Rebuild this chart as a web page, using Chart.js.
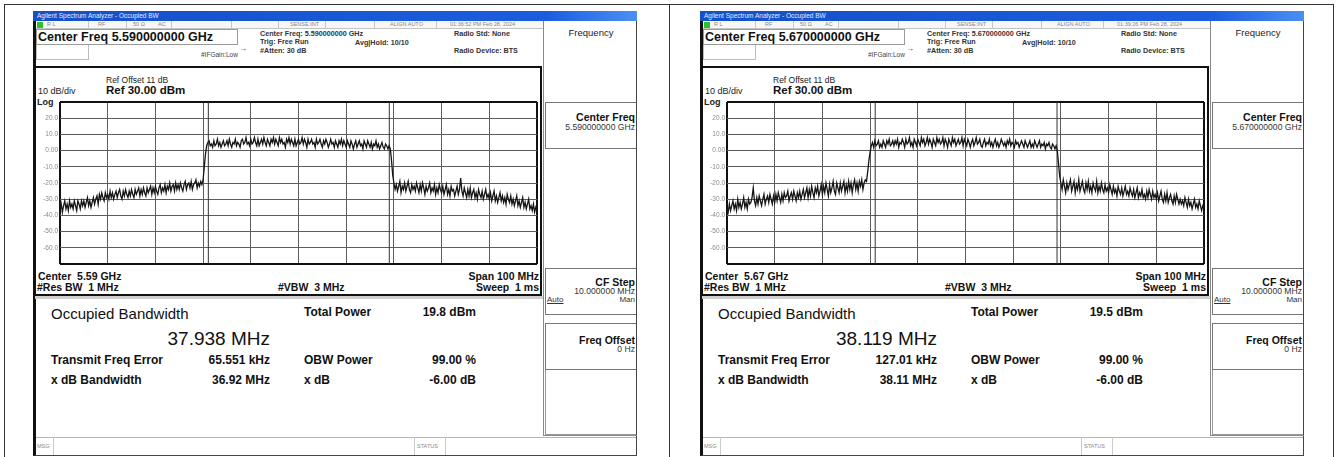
<!DOCTYPE html>
<html>
<head>
<meta charset="utf-8">
<script src="https://cdn.jsdelivr.net/npm/chart.js@4.4.1/dist/chart.umd.min.js"></script>
<style>
  html, body { margin: 0; padding: 0; background: #fff; }
  body { width: 1336px; height: 457px; position: relative; overflow: hidden;
         font-family: "Liberation Sans", Arial, sans-serif; color: #111; }
  .abs { position: absolute; white-space: pre; }
</style>
</head>
<body>
<div id="page"></div>
<script>
// sweep: 100 MHz span around the centre frequency, 10 dB/div from Ref 30 dBm
const sweepStartMHz = -50;
const sweepStopMHz = 50;
const refLevel = 30;
const bottomLevel = -70;
const levelTicks = [20, 10, 0, -10, -20, -30, -40, -50, -60];
const levelTickLabels = ['20.0', '10.0', '0.00', '-10.0', '-20.0', '-30.0', '-40.0', '-50.0', '-60.0'];

// traces, dBm, 401 points across the span
const traceLow = [
  -37, -33, -38, -34, -31, -36, -33, -37, -31, -35, -33, -36, -31, -34, -37, -31, -33, -36, -31, -34,
  -31, -35, -32, -29, -34, -31, -35, -32, -29, -33, -30, -28, -33, -27, -30, -26, -29, -31, -26, -29,
  -27, -30, -25, -29, -26, -30, -27, -25, -29, -26, -24, -28, -30, -25, -28, -24, -27, -29, -25, -28,
  -24, -27, -29, -24, -27, -25, -23, -28, -24, -27, -23, -26, -28, -23, -26, -24, -22, -27, -23, -26,
  -22, -25, -27, -23, -21, -26, -23, -25, -21, -26, -22, -24, -20, -25, -22, -21, -25, -20, -24, -21,
  -24, -20, -23, -25, -21, -19, -24, -21, -20, -23, -19, -24, -21, -20, -18, -23, -20, -22, -19, -21,
  -18, -10, -2, 3, 5, 6, 3, 4, 2, 6, 3, 4, 7, 3, 5, 2, 4, 6, 3, 4,
  6, 3, 7, 4, 2, 5, 4, 7, 3, 5, 4, 2, 6, 7, 4, 5, 8, 4, 5, 3,
  7, 4, 5, 8, 5, 3, 7, 3, 5, 7, 4, 8, 5, 3, 7, 5, 3, 7, 5, 8,
  4, 7, 5, 3, 8, 5, 7, 4, 5, 2, 7, 5, 8, 4, 7, 5, 3, 7, 3, 5,
  7, 4, 5, 8, 4, 7, 5, 2, 7, 4, 5, 7, 4, 5, 2, 7, 4, 5, 7, 4,
  2, 6, 4, 7, 5, 2, 4, 7, 4, 5, 2, 6, 4, 2, 6, 4, 7, 3, 6, 4,
  2, 6, 4, 2, 6, 4, 1, 4, 6, 2, 4, 6, 3, 4, 1, 6, 4, 2, 6, 4,
  2, 5, 1, 4, 3, 6, 2, 4, 1, 3, 5, 2, 1, 4, 3, 1, 3, 1, -6, -15,
  -20, -24, -21, -25, -22, -19, -26, -22, -24, -20, -25, -22, -19, -24, -26, -21, -24, -22, -25, -20,
  -23, -26, -21, -25, -20, -23, -27, -22, -25, -23, -20, -26, -23, -25, -21, -27, -23, -26, -21, -24,
  -26, -22, -27, -24, -21, -27, -24, -28, -22, -25, -24, -28, -25, -22, -27, -24, -17, -25, -28, -23,
  -26, -29, -24, -28, -23, -29, -26, -24, -29, -26, -30, -24, -27, -29, -25, -30, -27, -24, -29, -27,
  -30, -26, -31, -28, -25, -31, -28, -32, -29, -26, -31, -28, -32, -29, -33, -27, -30, -32, -28, -33,
  -30, -34, -31, -28, -34, -31, -35, -32, -29, -35, -32, -36, -33, -30, -36, -34, -37, -33, -38, -35,
  -37
];
const traceHigh = [
  -35, -38, -33, -37, -34, -31, -36, -33, -37, -30, -35, -32, -36, -33, -29, -35, -32, -36, -30, -33,
  -32, -29, -23, -31, -34, -29, -33, -28, -31, -34, -30, -27, -33, -30, -28, -32, -27, -30, -33, -28,
  -32, -27, -31, -26, -29, -32, -27, -31, -26, -29, -28, -25, -31, -28, -26, -30, -25, -28, -31, -26,
  -29, -25, -30, -27, -24, -29, -26, -23, -29, -24, -28, -22, -26, -29, -23, -26, -22, -28, -25, -21,
  -27, -22, -26, -20, -24, -28, -21, -26, -23, -19, -25, -27, -20, -23, -26, -20, -25, -22, -19, -26,
  -21, -25, -19, -24, -20, -26, -21, -18, -24, -20, -25, -19, -22, -18, -24, -20, -18, -19, -13, -6,
  -1, 3, 5, 2, 6, 3, 4, 6, 2, 4, 2, 6, 4, 2, 6, 4, 7, 3, 4, 6,
  3, 6, 4, 7, 2, 5, 4, 7, 5, 2, 7, 4, 5, 8, 3, 5, 2, 7, 5, 3,
  7, 5, 3, 8, 5, 7, 3, 5, 8, 4, 7, 5, 2, 7, 5, 3, 8, 5, 7, 4,
  5, 8, 3, 7, 5, 2, 7, 5, 3, 8, 5, 7, 3, 5, 7, 4, 5, 8, 3, 7,
  5, 3, 7, 5, 2, 5, 7, 3, 5, 8, 4, 5, 7, 3, 2, 5, 7, 3, 5, 4,
  7, 3, 5, 2, 5, 7, 3, 5, 2, 4, 7, 5, 3, 5, 2, 6, 4, 7, 3, 5,
  4, 2, 6, 4, 5, 2, 4, 6, 4, 2, 6, 4, 2, 4, 6, 2, 4, 2, 6, 4,
  2, 4, 6, 2, 4, 3, 5, 1, 4, 3, 5, 2, 1, 4, 3, 1, 3, 0, -8, -16,
  -20, -24, -18, -22, -26, -20, -24, -21, -18, -25, -22, -19, -26, -21, -24, -18, -25, -22, -19, -24,
  -26, -20, -24, -19, -25, -22, -26, -20, -23, -25, -19, -26, -22, -25, -20, -24, -26, -21, -25, -23,
  -26, -21, -24, -27, -22, -26, -24, -28, -22, -25, -27, -23, -28, -25, -22, -27, -25, -28, -23, -26,
  -28, -24, -29, -26, -23, -29, -26, -28, -24, -29, -27, -30, -25, -29, -24, -27, -30, -25, -29, -27,
  -30, -26, -31, -28, -25, -30, -32, -27, -31, -26, -32, -29, -27, -31, -33, -28, -32, -27, -30, -33,
  -30, -33, -31, -34, -29, -32, -35, -30, -34, -32, -36, -33, -30, -35, -33, -36, -31, -34, -37, -34,
  -36
];
const traces = [traceLow, traceHigh];

// measurement readouts of the two screens
const centerFreqText = ['5.590000000 GHz', '5.670000000 GHz'];
const centerShort = ['5.59 GHz', '5.67 GHz'];
const timestamps = ['01:36:52 PM Feb 28, 2024', '01:39:26 PM Feb 28, 2024'];
const obwMHz = [37.938, 38.119];
const freqErrorKHz = [65.551, 127.01];
const obwText = ['37.938 MHz', '38.119 MHz'];
const totalPowerText = ['19.8 dBm', '19.5 dBm'];
const freqErrorText = ['65.551 kHz', '127.01 kHz'];
const xdbBandwidthText = ['36.92 MHz', '38.11 MHz'];

const page = document.getElementById('page');

function el(parent, css, text) {
  const d = document.createElement('div');
  d.className = 'abs';
  Object.assign(d.style, css);
  if (text != null) d.textContent = text;
  parent.appendChild(d);
  return d;
}
function box(parent, x, y, w, h, css) {
  return el(parent, Object.assign({ left: x + 'px', top: y + 'px', width: w + 'px', height: h + 'px', boxSizing: 'border-box' }, css || {}));
}
function label(parent, text, x, y, size, opt) {
  opt = opt || {};
  const css = {
    fontSize: size + 'px', lineHeight: Math.round(size * 1.3) + 'px',
    top: (y - size * 0.65) + 'px', color: opt.color || '#111',
    fontWeight: opt.bold ? 'bold' : 'normal'
  };
  if (opt.underline) css.textDecoration = 'underline';
  if (opt.right) { css.left = (x - 400) + 'px'; css.width = '400px'; css.textAlign = 'right'; }
  else if (opt.center) { css.left = (x - 200) + 'px'; css.width = '400px'; css.textAlign = 'center'; }
  else css.left = x + 'px';
  return el(parent, css, text);
}

// outer table lines
box(page, 4, 4, 1330, 1, { background: '#333' });
box(page, 4, 4, 1, 453, { background: '#333' });
box(page, 669, 4, 1, 453, { background: '#333' });
box(page, 1333, 4, 1, 453, { background: '#333' });

function buildPanel(k, dx) {
  const p = el(page, { left: dx + 'px', top: '0px', width: '660px', height: '457px' });

  // window
  box(p, 33, 11, 604, 445, { background: '#fff', borderLeft: '3px solid #111', borderRight: '1px solid #444', borderBottom: '1px solid #444' });
  box(p, 33, 11, 604, 10, { background: 'linear-gradient(to right, #1450c6, #1c5ddf 85%, #4b8ff4)' });
  label(p, 'Agilent Spectrum Analyzer - Occupied BW', 37, 16, 6.5, { color: '#e6ecff' });

  // status row
  box(p, 36, 21, 507, 8, { background: '#f7f7f7', borderBottom: '1px solid #c4c4c4' });
  [88, 126, 171, 231, 278, 325, 374, 436].forEach(x => box(p, x, 21, 1, 8, { background: '#c8c8c8' }));
  box(p, 37, 22, 6, 6, { background: '#2cc22c' });
  label(p, 'R L', 47, 25, 5.5, { color: '#888' });
  label(p, 'RF', 98, 25, 5.5, { color: '#888' });
  label(p, '50 Ω', 133, 25, 5.5, { color: '#888' });
  label(p, 'AC', 158, 25, 5.5, { color: '#888' });
  label(p, 'SENSE:INT', 290, 25, 5.5, { color: '#888' });
  label(p, 'ALIGN AUTO', 390, 25, 5.5, { color: '#888' });
  label(p, timestamps[k], 450, 25, 5.5, { color: '#888' });

  // centre frequency readout
  box(p, 36, 29, 202, 16, { border: '1px solid #9a9a9a' });
  box(p, 36, 45, 53, 15, { border: '1px solid #bdbdbd', borderTop: 'none' });
  label(p, 'Center Freq ' + centerFreqText[k], 38, 37, 12.5, { bold: true });
  label(p, '→', 239, 49, 8, { color: '#333' });
  label(p, '#IFGain:Low', 201, 55, 6.5, { color: '#444' });
  label(p, 'Center Freq: ' + centerFreqText[k], 260, 34, 7.2, { bold: true, color: '#333' });
  label(p, 'Trig: Free Run', 260, 42, 7.2, { bold: true, color: '#333' });
  label(p, 'Avg|Hold: 10/10', 355, 43, 7.2, { bold: true, color: '#333' });
  label(p, '#Atten: 30 dB', 260, 51, 7.2, { bold: true, color: '#333' });
  label(p, 'Radio Std: None', 454, 34, 7.2, { bold: true, color: '#333' });
  label(p, 'Radio Device: BTS', 454, 51, 7.2, { bold: true, color: '#333' });

  // softkey panel
  box(p, 543, 21, 94, 415, { borderLeft: '1px solid #8a8a8a', borderBottom: '1px solid #8a8a8a' });
  label(p, 'Frequency', 591, 33, 9.5, { center: true, color: '#222' });
  box(p, 545, 102, 91, 47, { border: '1px solid #777', borderRight: 'none' });
  label(p, 'Center Freq', 635, 117, 10.5, { right: true, bold: true });
  label(p, centerFreqText[k], 635, 128, 8.6, { right: true, color: '#333' });
  box(p, 545, 268, 91, 47, { border: '1px solid #777', borderRight: 'none' });
  label(p, 'CF Step', 635, 282, 10.5, { right: true, bold: true });
  label(p, '10.000000 MHz', 635, 292, 8.6, { right: true, color: '#333' });
  label(p, 'Auto', 547, 300, 8, { underline: true, color: '#333' });
  label(p, 'Man', 635, 300, 8, { right: true, color: '#333' });
  box(p, 545, 323, 91, 47, { border: '1px solid #777', borderRight: 'none' });
  label(p, 'Freq Offset', 635, 340, 10.5, { right: true, bold: true });
  label(p, '0 Hz', 635, 350, 8.6, { right: true, color: '#333' });
  box(p, 545, 370, 91, 65, { borderLeft: '1px solid #999', borderBottom: '1px solid #999' });

  // graph frame
  box(p, 34, 66, 508, 230, { border: '2px solid #111' });
  label(p, 'Ref Offset 11 dB', 106, 81, 8.5, { color: '#222' });
  label(p, '10 dB/div', 38, 91, 9, { color: '#222' });
  label(p, 'Ref 30.00 dBm', 106, 90, 11.5, { bold: true });
  label(p, 'Log', 37, 102, 9, { bold: true, color: '#222' });
  label(p, 'Center  ' + centerShort[k], 38, 276, 10.5, { bold: true });
  label(p, '#Res BW  1 MHz', 37, 287, 10.5, { bold: true });
  label(p, '#VBW  3 MHz', 278, 287, 10.5, { bold: true });
  label(p, 'Span 100 MHz', 539, 276, 10.5, { right: true, bold: true });
  label(p, 'Sweep  1 ms', 539, 287, 10.5, { right: true, bold: true });
  box(p, 35, 296, 508, 3, { background: '#cfcfcf' });

  // measurement results
  label(p, 'Occupied Bandwidth', 51, 314, 15);
  label(p, obwText[k], 270, 338, 19, { right: true });
  label(p, 'Total Power', 304, 312, 12, { bold: true });
  label(p, totalPowerText[k], 476, 312, 12, { right: true, bold: true });
  label(p, 'Transmit Freq Error', 51, 360, 12, { bold: true });
  label(p, freqErrorText[k], 270, 360, 12, { right: true, bold: true });
  label(p, 'OBW Power', 304, 360, 12, { bold: true });
  label(p, '99.00 %', 476, 360, 12, { right: true, bold: true });
  label(p, 'x dB Bandwidth', 51, 380, 12, { bold: true });
  label(p, xdbBandwidthText[k], 270, 380, 12, { right: true, bold: true });
  label(p, 'x dB', 304, 380, 12, { bold: true });
  label(p, '-6.00 dB', 476, 380, 12, { right: true, bold: true });

  // message bar
  box(p, 36, 437, 600, 18, { borderTop: '1px solid #b5b5b5' });
  label(p, 'MSG', 37, 447, 5.5, { color: '#888' });
  box(p, 53, 437, 1, 18, { background: '#ccc' });
  box(p, 414, 437, 1, 18, { background: '#ccc' });
  label(p, 'STATUS', 417, 447, 5.5, { color: '#888' });
  box(p, 445, 437, 1, 18, { background: '#ccc' });

  // the spectrum plot
  const cv = document.createElement('canvas');
  cv.width = 504; cv.height = 174;
  Object.assign(cv.style, { position: 'absolute', left: '36px', top: '96px', width: '504px', height: '174px' });
  p.appendChild(cv);

  const trace = traces[k];
  const step = (sweepStopMHz - sweepStartMHz) / (trace.length - 1);
  const points = trace.map((v, i) => ({ x: sweepStartMHz + i * step, y: v }));
  const offsetMHz = freqErrorKHz[k] / 1000;
  const obwLo = offsetMHz - obwMHz[k] / 2;
  const obwHi = offsetMHz + obwMHz[k] / 2;

  const edge = (c, a, b) => c.tick && (c.tick.value === a || c.tick.value === b);

  new Chart(cv, {
    type: 'line',
    data: {
      datasets: [
        { data: points, borderColor: '#161616', borderWidth: 1.3, pointRadius: 0, tension: 0 },
        { data: [{ x: obwLo, y: bottomLevel }, { x: obwLo, y: refLevel }], borderColor: '#333', borderWidth: 1, pointRadius: 0 },
        { data: [{ x: obwHi, y: bottomLevel }, { x: obwHi, y: refLevel }], borderColor: '#333', borderWidth: 1, pointRadius: 0 }
      ]
    },
    options: {
      responsive: false,
      animation: false,
      events: [],
      layout: { padding: { top: 4, right: 3, bottom: 4, left: 0 } },
      plugins: { legend: { display: false }, tooltip: { enabled: false } },
      scales: {
        x: {
          type: 'linear', min: sweepStartMHz, max: sweepStopMHz,
          ticks: { display: false, stepSize: 10 },
          grid: {
            drawTicks: false,
            color: c => edge(c, sweepStartMHz, sweepStopMHz) ? '#111' : '#5c5c5c',
            lineWidth: c => edge(c, sweepStartMHz, sweepStopMHz) ? 2 : 1
          },
          border: { display: false },
          afterFit: s => { s.height = 0; }
        },
        y: {
          min: bottomLevel, max: refLevel,
          ticks: {
            stepSize: 10, padding: 2, color: '#8a8a8a',
            font: { family: 'Liberation Sans', size: 6.5 },
            callback: v => {
              const i = levelTicks.indexOf(v);
              return i >= 0 ? levelTickLabels[i] : '';
            }
          },
          grid: {
            drawTicks: false,
            color: c => edge(c, bottomLevel, refLevel) ? '#111' : '#5c5c5c',
            lineWidth: c => edge(c, bottomLevel, refLevel) ? 2 : 1
          },
          border: { display: false },
          afterFit: s => { s.width = 24; }
        }
      }
    }
  });
}

buildPanel(0, 0);
buildPanel(1, 667);
</script>
</body>
</html>
